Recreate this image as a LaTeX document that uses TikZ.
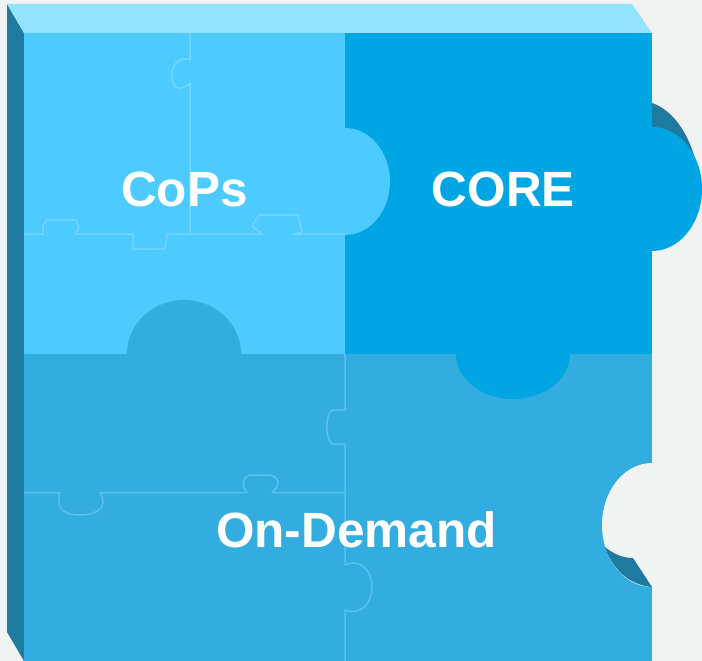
\documentclass[tikz,border=0pt]{standalone}
\usepackage{fontspec}
\setmainfont{Liberation Sans}
\definecolor{pagebg}{HTML}{F1F3F3}
\definecolor{sidec}{HTML}{1F7A9F}
\definecolor{topc}{HTML}{93E2FF}
\definecolor{copsc}{HTML}{4DCBFF}
\definecolor{corec}{HTML}{00A5E3}
\definecolor{demandc}{HTML}{33ADDF}
\definecolor{seamtop}{HTML}{72D5FF}
\definecolor{seambot}{HTML}{58C1EE}
\tikzset{
  piecelabel/.style={text=white,font=\bfseries\fontsize{49.5}{49.5}\selectfont,anchor=base,inner sep=0pt},
  seamA/.style={draw=seamtop,line width=1.5pt,line join=round},
  seamB/.style={draw=seambot,line width=1.5pt,line join=round}
}
\begin{document}
\begin{tikzpicture}[x=1pt,y=-1pt]
\useasboundingbox (0,0) rectangle (702,661);
\fill[pagebg] (0,0) rectangle (702,661);
% side and top faces
\fill[sidec] (7,4) -- (24,33) -- (24,661) -- (7,632) -- cycle;
\fill[topc] (7,4) -- (632,4) -- (652,33) -- (24,33) -- cycle;
% shadow behind the right tab
\fill[sidec] (652,103) .. controls (672,110) and (686,130) .. (694,155) -- (652,155) -- cycle;
% faces of the pieces
\fill[demandc] (24,354) rectangle (652,661);
\fill[pagebg] (652,463) arc[start angle=270,end angle=90,x radius=50,y radius=62] -- cycle;
\fill[sidec] (605,547) .. controls (612,553) and (622,558) .. (633,558) -- (652,587)
  .. controls (628,585) and (612,568) .. (605,547) -- cycle;
\fill[corec] (345,33) rectangle (652,354);
\fill[corec] (652,127) arc[start angle=-90,end angle=90,x radius=50,y radius=62] -- cycle;
\fill[corec] (456,354) arc[start angle=180,end angle=0,x radius=57,y radius=45] -- cycle;
\fill[copsc] (24,33) rectangle (345,354);
\fill[copsc] (345,128) arc[start angle=-90,end angle=90,x radius=45,y radius=53.5] -- cycle;
\fill[demandc] (127,354) arc[start angle=180,end angle=360,x radius=57,y radius=54] -- cycle;
% seams in the CoPs piece
\draw[seamA] (190,33) -- (190,60) .. controls (182,56) and (172,62) .. (172,75)
  .. controls (172,86) and (178,94) .. (190,83) -- (190,234);
\draw[seamA] (24,234) -- (43,234) -- (43,226) -- (47,220) -- (76,220) -- (79,227) -- (76,234)
  -- (133,234) -- (133,249) -- (165,249) -- (167,234) -- (262,234)
  -- (252,226) -- (259,215) -- (298,215) -- (302,232) -- (293,234) -- (345,234);
% seams in the On-Demand piece
\draw[seamB] (24,492.5) -- (60,492.5) .. controls (56,505) and (60,515) .. (80,515)
  .. controls (100,515) and (108,505) .. (100,492.5) -- (247,492.5)
  .. controls (240,484) and (244,475) .. (252,475) -- (268,475)
  .. controls (278,475) and (282,484) .. (272,492.5) -- (345,492.5);
\draw[seamB] (345,354) -- (345,410) -- (332,410) .. controls (325,415) and (325,438) .. (332,444)
  -- (345,444) -- (345,565) .. controls (362,558) and (372,572) .. (372,587)
  .. controls (372,602) and (362,616) .. (345,610) -- (345,661);
% labels
\node[piecelabel] (cops) at (184.5,206) {CoPs};
\node[piecelabel] (core) at (503.5,206) {CORE};
\node[piecelabel] (demand) at (356.5,547) {On-Demand};
\end{tikzpicture}
\end{document}
